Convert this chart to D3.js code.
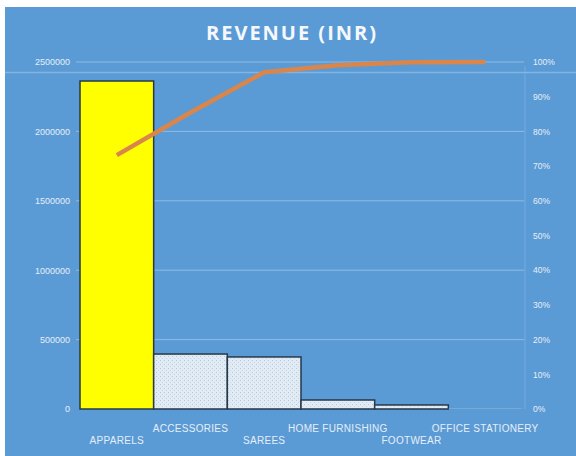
<!DOCTYPE html>
<html>
<head>
<meta charset="utf-8">
<script src="https://cdn.jsdelivr.net/npm/d3@7"></script>
<style>
  html, body { margin: 0; padding: 0; background: #ffffff; }
  svg { display: block; }
</style>
</head>
<body>
<svg id="chart" width="576" height="456"></svg>
<script>
// Revenue by product category (INR), Pareto layout
const categories = ["APPARELS", "ACCESSORIES", "SAREES", "HOME FURNISHING", "FOOTWEAR", "OFFICE STATIONERY"];
const revenue = [2363000, 396000, 375000, 65000, 29000, 1500];
const leftTicks = [0, 500000, 1000000, 1500000, 2000000, 2500000];
const rightTicks = [0, 0.1, 0.2, 0.3, 0.4, 0.5, 0.6, 0.7, 0.8, 0.9, 1];

const svg = d3.select("#chart");
const W = 576, H = 456;
const plot = { left: 80, right: 522, top: 62, bottom: 409 };

// chart background
svg.append("rect").attr("x", 5).attr("y", 7).attr("width", W - 5).attr("height", H - 7)
  .attr("fill", "#5b9bd5");

// dotted fill for the secondary bars
const defs = svg.append("defs");
const pat = defs.append("pattern").attr("id", "dots")
  .attr("patternUnits", "userSpaceOnUse").attr("width", 4).attr("height", 4);
pat.append("rect").attr("width", 4).attr("height", 4).attr("fill", "#e1ebf5");
pat.append("rect").attr("x", 0).attr("y", 0).attr("width", 1).attr("height", 1).attr("fill", "#b9c6d4");
pat.append("rect").attr("x", 2).attr("y", 2).attr("width", 1).attr("height", 1).attr("fill", "#c8d3df");

const x = d3.scaleBand().domain(categories).range([plot.left, plot.right]).padding(0);
const y = d3.scaleLinear().domain([0, 2500000]).range([plot.bottom, plot.top]);
const yPct = d3.scaleLinear().domain([0, 1]).range([plot.bottom, plot.top]);

// title
svg.append("text").attr("x", 292).attr("y", 40)
  .attr("text-anchor", "middle")
  .attr("font-family", "'Open Sans', 'DejaVu Sans', sans-serif")
  .attr("font-size", 20).attr("font-weight", "bold")
  .attr("letter-spacing", 2)
  .attr("fill", "#f4f8fc")
  .text("REVENUE (INR)");

// gridlines
svg.append("g").selectAll("line").data(leftTicks.filter(d => d > 0)).join("line")
  .attr("x1", 76).attr("x2", 524)
  .attr("y1", d => y(d)).attr("y2", d => y(d))
  .attr("stroke", "#8dbbe6").attr("stroke-width", 1);

// faint plot-area frame
svg.append("line").attr("x1", 525).attr("x2", 525).attr("y1", 66).attr("y2", 409)
  .attr("stroke", "#74abdf").attr("stroke-width", 1);
svg.append("line").attr("x1", 5).attr("x2", W).attr("y1", 72.5).attr("y2", 72.5)
  .attr("stroke", "#8cbbe8").attr("stroke-width", 1.5).attr("opacity", 0.8);

const tickFont = "'Liberation Sans', Arial, sans-serif";

// left value axis
const leftAxis = d3.axisLeft(y).tickValues(leftTicks).tickSize(0).tickPadding(0)
  .tickFormat(d3.format("d"));
const gl = svg.append("g").attr("transform", "translate(70,0)").call(leftAxis);
gl.select(".domain").remove();
gl.selectAll("text")
  .attr("font-family", tickFont)
  .attr("font-size", 9).attr("fill", "#e6eef8");

// right percentage axis
const rightAxis = d3.axisRight(yPct).tickValues(rightTicks).tickSize(0).tickPadding(0)
  .tickFormat(d3.format(".0%"));
const gr = svg.append("g").attr("transform", "translate(533,0)").call(rightAxis);
gr.select(".domain").remove();
gr.selectAll("text")
  .attr("font-family", tickFont)
  .attr("font-size", 8.5).attr("fill", "#e6eef8");

// bars (no outline on bars too thin to show one)
svg.append("g").selectAll("rect").data(categories).join("rect")
  .attr("x", d => x(d))
  .attr("y", (d, i) => y(revenue[i]))
  .attr("width", x.bandwidth())
  .attr("height", (d, i) => y(0) - y(revenue[i]))
  .attr("fill", (d, i) => i === 0 ? "#ffff00" : "url(#dots)")
  .attr("stroke", (d, i) => (y(0) - y(revenue[i])) < 1 ? "none" : "#26384a")
  .attr("stroke-width", 1.5);

// cumulative share line
const total = d3.sum(revenue);
const cumulative = d3.cumsum(revenue).map(v => v / total);
const line = d3.line()
  .x((d, i) => x(categories[i]) + x.bandwidth() / 2)
  .y(d => yPct(d));
svg.append("path").datum(Array.from(cumulative))
  .attr("d", line)
  .attr("fill", "none")
  .attr("stroke", "#da854a").attr("stroke-width", 4.5)
  .attr("stroke-linejoin", "round");

// staggered category labels
svg.append("g").selectAll("text").data(categories).join("text")
  .attr("x", d => x(d) + x.bandwidth() / 2)
  .attr("y", (d, i) => i % 2 === 0 ? 444 : 432)
  .attr("text-anchor", "middle")
  .attr("font-family", tickFont)
  .attr("font-size", 10).attr("letter-spacing", 0.3)
  .attr("fill", "#e6eef8")
  .text(d => d);
</script>
</body>
</html>
